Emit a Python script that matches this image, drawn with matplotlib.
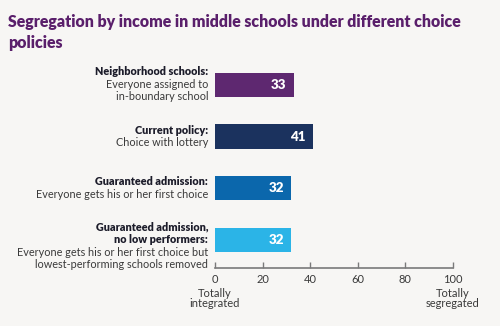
import matplotlib.pyplot as plt

plt.rcParams['font.family'] = ['Lato', 'DejaVu Sans']

title = 'Segregation by income in middle schools under different choice\npolicies'
bold_lines = [['Neighborhood schools:'],
              ['Current policy:'],
              ['Guaranteed admission:'],
              ['Guaranteed admission,', 'no low performers:']]
plain_lines = [['Everyone assigned to', 'in-boundary school'],
               ['Choice with lottery'],
               ['Everyone gets his or her first choice'],
               ['Everyone gets his or her first choice but', 'lowest-performing schools removed']]
values = [33, 41, 32, 32]
colors = ['#5e2870', '#1b325e', '#0b67ac', '#2bb4e7']
ticks = [0, 20, 40, 60, 80, 100]

bg = '#f7f6f4'
fig = plt.figure(figsize=(5, 3.26), dpi=100, facecolor=bg)
ax = fig.add_axes([0.43, 0.177, 0.476, 0.650])
ax.set_facecolor(bg)

ypos = list(range(len(values)))
ax.barh(ypos, values, height=0.474, color=colors)
ax.set_xlim(0, 100)
ax.set_ylim(3.553, -0.553)

for y, v in zip(ypos, values):
    ax.annotate(str(v), xy=(v, y), xytext=(-5, 0), textcoords='offset points',
                ha='right', va='center', color='white', fontsize=9.6, fontweight='heavy')

# category labels, one line at a time
line_pt = 12.6 * 0.72
shift_pt = [0.5, 0, 0, -4.3]
for y, bl, pl, sh in zip(ypos, bold_lines, plain_lines, shift_pt):
    lines = [(t, 'heavy') for t in bl] + [(t, 'normal') for t in pl]
    n = len(lines)
    for k, (t, w) in enumerate(lines):
        dy = ((n - 1) / 2 - k) * line_pt + sh
        ax.annotate(t, xy=(0, y), xytext=(-5, dy), textcoords='offset points',
                    ha='right', va='center', fontsize=7.85, fontweight=w,
                    color='#1c1c2a' if w == 'heavy' else '#3a3a3a',
                    annotation_clip=False)

for s in ['top', 'right', 'left']:
    ax.spines[s].set_visible(False)
ax.spines['bottom'].set_color('#7a7a7a')
ax.spines['bottom'].set_linewidth(1.2)
ax.set_yticks([])
ax.set_xticks(ticks)
ax.tick_params(axis='x', direction='in', length=4, width=1, color='#7a7a7a',
               labelsize=8, labelcolor='#3a3a3a', pad=4)

for x, t in [(0, 'Totally\nintegrated'), (100, 'Totally\nsegregated')]:
    ax.annotate(t, xy=(x, 0), xycoords=('data', 'axes fraction'), xytext=(0, -14),
                textcoords='offset points', ha='center', va='top', fontsize=8,
                color='#3a3a3a', linespacing=0.9, annotation_clip=False)

fig.text(8 / 500, 1 - 14 / 326, title, ha='left', va='top', fontsize=11.4,
         fontweight='heavy', color='#5a1f6b', linespacing=1.35)

fig.savefig('out.png', dpi=100, facecolor=bg)
